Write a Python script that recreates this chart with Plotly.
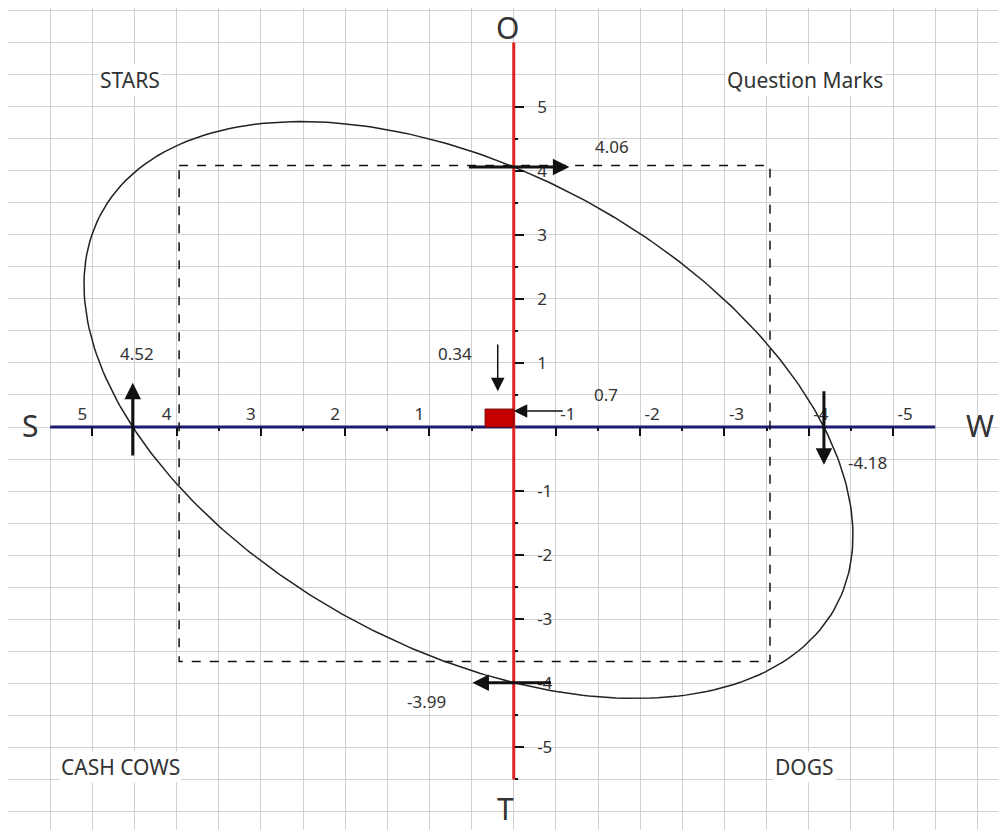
import numpy as np
import plotly.graph_objects as go

# SWOT scores on the four half-axes
S_VALUE = 4.52
W_VALUE = -4.18
O_VALUE = 4.06
T_VALUE = -3.99

# strategy position (labels) and the drawn box size
POS_LABELS = ["0.34", "0.7"]
POS_BOX = [0.34, 0.28]

# dashed reference box (S, W, O, T edges)
BOX_S = 3.97
BOX_W = -3.54
BOX_O = 4.08
BOX_T = -3.66

S_TICKS = [1, 2, 3, 4, 5]
W_TICKS = [-1, -2, -3, -4, -5]
V_TICKS = [-5, -4, -3, -2, -1, 1, 2, 3, 4, 5]

QUADRANTS = ["STARS", "Question Marks", "CASH COWS", "DOGS"]
AXIS_NAMES = ["S", "W", "O", "T"]

# layout settings
W_SHIFT = 0.5          # the W scale starts half a unit right of the O-T axis
X_RANGE = [6.00, -5.84]
Y_RANGE = [-6.29, 6.54]
TILT = 0.053
FONT = "Noto Sans"
TEXT_COLOR = "#333333"


def conic_curve(a, b, c, d, tilt, n=361):
    """Closed curve through (a,0), (b,0), (0,c), (0,d) with a given tilt."""
    A = 1.0 / (a * b)
    D = -(a + b) / (a * b)
    C = 1.0 / (c * d)
    E = -(c + d) / (c * d)
    th = np.linspace(0, 2 * np.pi, n)
    cs, sn = np.cos(th), np.sin(th)
    q = A * cs ** 2 + tilt * cs * sn + C * sn ** 2
    lin = D * cs + E * sn
    r = (-lin - np.sqrt(lin * lin - 4 * q)) / (2 * q)
    return r * cs, r * sn


fig = go.Figure()

# S-W axis and O-T axis
fig.add_trace(go.Scatter(x=[5.5, -5.0], y=[0, 0], mode="lines",
                         line=dict(color="#1c1c6e", width=3), hoverinfo="skip"))
fig.add_trace(go.Scatter(x=[0, 0], y=[6.0, -5.5], mode="lines",
                         line=dict(color="#dd2222", width=3), hoverinfo="skip"))

# dashed box
bw = BOX_W + W_SHIFT
fig.add_trace(go.Scatter(
    x=[BOX_S, bw, bw, BOX_S, BOX_S],
    y=[BOX_O, BOX_O, BOX_T, BOX_T, BOX_O],
    mode="lines", line=dict(color="#111111", width=1.5, dash="dash"),
    hoverinfo="skip"))

# ellipse through the four scores
ex, ey = conic_curve(S_VALUE, W_VALUE + W_SHIFT, O_VALUE, T_VALUE, TILT)
fig.add_trace(go.Scatter(x=ex, y=ey, mode="lines",
                         line=dict(color="#222222", width=1.5), hoverinfo="skip"))

# strategy position box
px, py = POS_BOX
fig.add_trace(go.Scatter(
    x=[0, px, px, 0, 0], y=[0, 0, py, py, 0], mode="lines", fill="toself",
    fillcolor="#c40000", line=dict(color="#7a0000", width=1), hoverinfo="skip"))

annotations = []


def arrow(x, y, ax, ay, width=3, size=1.1, xref="x"):
    annotations.append(dict(
        x=x, y=y, ax=ax, ay=ay, xref=xref, yref="y", axref=xref, ayref="y",
        text="", showarrow=True, arrowhead=2, arrowsize=size,
        arrowwidth=width, arrowcolor="#111111", standoff=0))


arrow(S_VALUE, 0.69, S_VALUE, -0.47)
arrow(-0.66, O_VALUE, 0.55, O_VALUE)
arrow(W_VALUE, -0.59, W_VALUE, 0.58, xref="x3")
arrow(0.49, T_VALUE, -0.46, T_VALUE)
arrow(0.19, 0.56, 0.19, 1.31, width=1.5, size=1.8)
arrow(0.0, 0.25, -0.6, 0.25, width=1.5, size=1.8)


def label(x, y, text, size=17, bg=None, xref="x"):
    annotations.append(dict(
        x=x, y=y, xref=xref, yref="y", text=text, showarrow=False,
        font=dict(family=FONT, size=size, color=TEXT_COLOR),
        bgcolor=bg))


label(4.47, 1.15, f"{S_VALUE:.2f}")
label(-1.16, 4.38, f"{O_VALUE:.2f}")
label(-4.20, -0.56, f"{W_VALUE:.2f}")
label(1.03, -4.29, f"{T_VALUE:.2f}")
label(0.70, 1.14, POS_LABELS[0])
label(-1.10, 0.51, POS_LABELS[1])

quad_pos = [(4.55, 5.41), (-3.46, 5.41), (4.67, -5.30), (-3.45, -5.30)]
for (qx, qy), name in zip(quad_pos, QUADRANTS):
    label(qx, qy, name, size=21, bg="white")

name_pos = [(5.74, 0.03), (-5.53, 0.03), (0.08, 6.23), (0.1, -5.96)]
for (nx, ny), name in zip(name_pos, AXIS_NAMES):
    label(nx, ny, name, size=30)

y0_frac = (0 - Y_RANGE[0]) / (Y_RANGE[1] - Y_RANGE[0])
x0_frac = (X_RANGE[0] - 0) / (X_RANGE[0] - X_RANGE[1])

tick_font = dict(family=FONT, size=17, color=TEXT_COLOR)
half = lambda vals: [v - 0.5 for v in vals]
as_text = lambda vals: [str(v) for v in vals]   # keep the plain hyphen
GRID = "#d0d0d0"

fig.update_layout(
    width=998, height=822,
    margin=dict(l=0, r=0, t=0, b=0),
    paper_bgcolor="white", plot_bgcolor="white",
    showlegend=False,
    annotations=annotations,
    xaxis=dict(range=X_RANGE, dtick=0.5, tick0=0, showgrid=True,
               gridcolor=GRID, gridwidth=1, showticklabels=False,
               ticks="", zeroline=False, showline=False, fixedrange=True),
    yaxis=dict(range=Y_RANGE, dtick=0.5, tick0=0, showgrid=True,
               gridcolor=GRID, gridwidth=1, showticklabels=False,
               ticks="", zeroline=False, showline=False, fixedrange=True),
    # S side scale
    xaxis2=dict(overlaying="x", range=X_RANGE, anchor="free", position=y0_frac,
                side="top", tickmode="array", tickvals=S_TICKS,
                ticktext=as_text(S_TICKS),
                ticks="inside", ticklen=8, tickwidth=2, tickcolor="#111111",
                tickfont=tick_font, ticklabelshift=10, ticklabelstandoff=4,
                minor=dict(tickmode="array", tickvals=half(S_TICKS),
                           ticks="inside", ticklen=3, tickwidth=2,
                           tickcolor="#111111", showgrid=False),
                showgrid=False, zeroline=False, showline=False),
    # W side scale, offset half a unit
    xaxis3=dict(overlaying="x", range=[X_RANGE[0] - W_SHIFT, X_RANGE[1] - W_SHIFT],
                anchor="free", position=y0_frac, side="top",
                tickmode="array", tickvals=W_TICKS, ticktext=as_text(W_TICKS),
                ticks="inside", ticklen=8, tickwidth=2, tickcolor="#111111",
                tickfont=tick_font, ticklabelshift=-12, ticklabelstandoff=4,
                minor=dict(tickmode="array", tickvals=half(W_TICKS[:-1]),
                           ticks="inside", ticklen=3, tickwidth=2,
                           tickcolor="#111111", showgrid=False),
                showgrid=False, zeroline=False, showline=False),
    # O-T scale
    yaxis2=dict(overlaying="y", range=Y_RANGE, anchor="free", position=x0_frac,
                side="right", tickmode="array", tickvals=V_TICKS,
                ticktext=as_text(V_TICKS),
                ticks="outside", ticklen=9, tickwidth=2, tickcolor="#111111",
                tickfont=tick_font, ticklabelstandoff=10,
                minor=dict(tickmode="array",
                           tickvals=[v + 0.5 for v in range(-6, 5) if v != -1],
                           ticks="outside", ticklen=3, tickwidth=2,
                           tickcolor="#111111", showgrid=False),
                showgrid=False, zeroline=False, showline=False),
)

# invisible traces so the extra axes are drawn
fig.add_trace(go.Scatter(x=[None], y=[None], xaxis="x2", yaxis="y2", hoverinfo="skip"))
fig.add_trace(go.Scatter(x=[None], y=[None], xaxis="x3", yaxis="y2", hoverinfo="skip"))

fig.write_html("out.html")
